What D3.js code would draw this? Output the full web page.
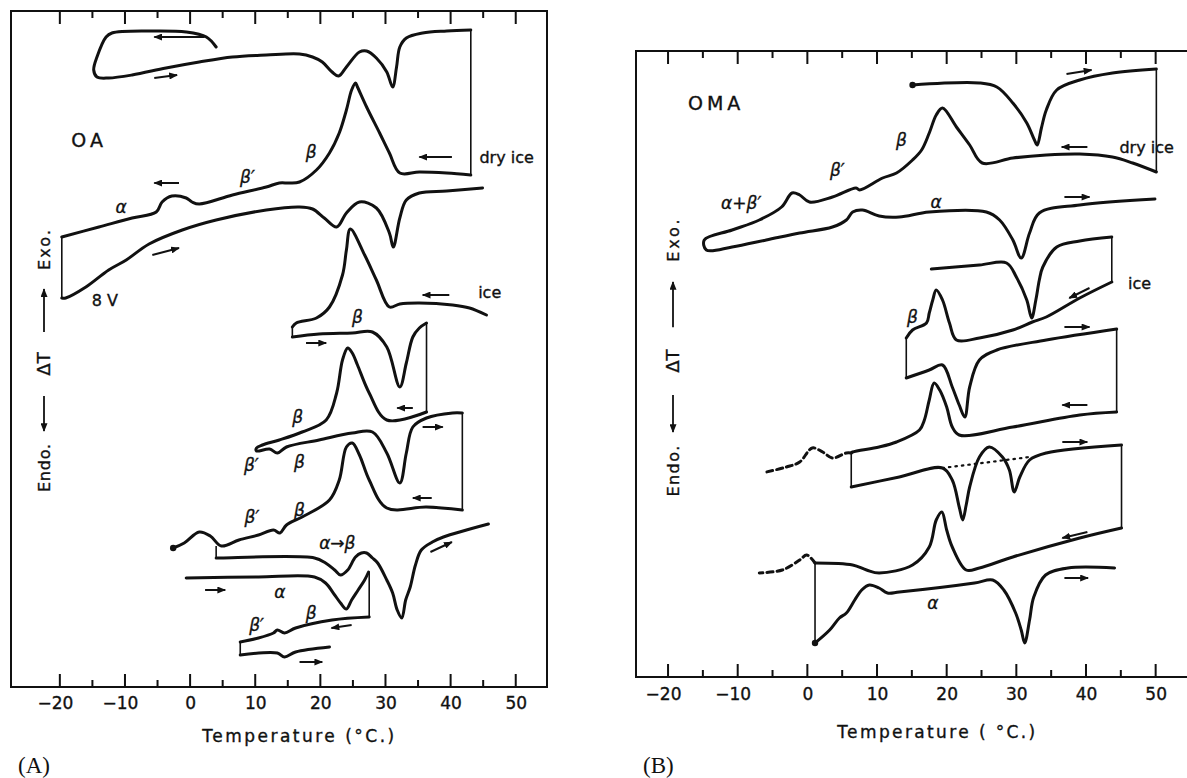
<!DOCTYPE html>
<html>
<head>
<meta charset="utf-8">
<script src="https://cdn.jsdelivr.net/npm/d3@7"></script>
<style>
  body { margin: 0; background: #fff; }
  svg { display: block; }
  .curve { fill: none; stroke: #111; stroke-width: 3; stroke-linejoin: round; stroke-linecap: round; }
  .jump { fill: none; stroke: #111; stroke-width: 1.6; }
  .frame { fill: none; stroke: #111; stroke-width: 2; }
  .lbl { font-family: 'DejaVu Sans', sans-serif; fill: #111; stroke: #111; stroke-width: 0.35; }
</style>
</head>
<body>
<svg id="fig" width="1187" height="778"></svg>
<script>
// ---- axis ticks (deg C) ----
var majorTicks = [-20, -10, 0, 10, 20, 30, 40, 50];
var minorTicks = [-15, -5, 5, 15, 25, 35, 45];

// ---- (A) OA : [temperature degC, deltaT arbitrary units] ----
var oaDryHeat = [[4.0,64.0],[2.5,65.0],[-0.6,65.5],[-6.3,65.6],[-12.0,65.4],[-12.9,65.0],[-14.3,63.0],[-14.8,61.7],[-14.3,61.0],[-12.5,60.9],[-8.9,61.2],[-3.7,61.9],[1.4,62.5],[6.5,63.0],[11.7,63.2],[16.8,63.3],[18.8,63.0],[20.3,62.5],[21.8,61.5],[22.8,61.1],[24.0,62.0],[26.0,63.5],[27.1,63.6],[28.6,62.9],[30.2,61.5],[31.1,60.0],[31.7,62.0],[32.2,64.0],[33.2,64.9],[35.7,65.4],[39.4,65.6],[43.1,65.7]];
var oaDryCool = [[43.1,51.2],[39.4,51.4],[35.2,51.5],[32.2,51.4],[30.6,53.4],[29.1,55.4],[27.1,58.0],[25.7,60.0],[25.4,60.4],[24.8,59.7],[24.0,57.7],[22.9,55.4],[21.4,53.4],[19.4,51.7],[16.8,50.5],[15.2,50.4],[13.7,50.4],[11.7,50.0],[6.5,49.2],[1.4,48.3],[0.3,48.5],[-0.6,48.9],[-2.8,49.1],[-4.3,48.5],[-5.2,47.5],[-8.9,46.9],[-14.0,46.0],[-19.7,45.0]];
var oaDryReheat = [[-19.7,38.9],[-19.1,38.9],[-16.0,40.0],[-12.5,41.7],[-9.8,42.7],[-6.3,44.3],[-1.2,45.7],[4.0,46.7],[11.7,47.7],[16.8,48.0],[18.8,47.8],[20.6,46.9],[22.5,46.0],[24.0,47.4],[26.0,48.5],[28.6,47.9],[30.6,45.4],[31.2,44.0],[32.2,46.9],[33.2,48.7],[35.2,49.4],[39.4,49.6],[44.9,49.9]];
var oaIceCool = [[45.5,37.2],[42.9,37.9],[40.3,38.2],[35.2,38.4],[32.2,38.3],[30.6,38.0],[28.6,40.7],[26.8,43.2],[24.6,45.8],[24.0,43.7],[23.4,41.2],[21.4,38.0],[19.4,36.9],[16.3,36.4],[15.7,36.0]];
var oaIceHeat = [[15.7,35.0],[19.8,35.3],[24.9,35.4],[28.0,35.5],[30.2,34.0],[32.2,30.0],[33.2,32.4],[34.2,35.0],[35.2,35.9],[36.3,36.4]];
var oaIceCool2 = [[36.3,27.5],[30.2,26.7],[27.5,29.4],[25.7,32.2],[24.9,33.4],[24.2,33.9],[23.4,32.7],[22.5,29.4],[20.9,26.7],[17.2,25.5],[13.7,24.7],[11.1,24.2],[10.2,23.9],[10.2,23.6],[12.2,23.8],[13.4,23.4],[14.8,24.0],[19.8,24.7],[24.9,25.4],[28.0,25.5],[30.2,23.4],[32.2,20.4],[33.2,23.4],[34.2,26.0],[36.3,26.9],[40.3,27.4],[41.8,27.4]];
var oaIceCool3 = [[41.8,17.7],[36.3,18.0],[30.2,17.9],[27.5,20.7],[26.0,23.2],[24.9,24.4],[24.0,24.0],[22.9,20.7],[21.4,18.7],[17.2,17.0],[14.8,16.2],[13.8,15.4],[12.8,15.7],[10.5,15.2],[7.5,14.7],[4.8,14.1],[3.1,15.1],[1.4,15.5],[-0.9,14.4],[-2.6,13.9]];
var oaAlphaBetaHeat = [[4.0,12.9],[4.8,12.9],[19.1,12.9],[20.8,12.4],[22.2,11.7],[23.1,11.2],[24.2,11.7],[25.4,13.0],[26.3,13.4],[27.1,13.4],[28.0,12.9],[28.8,12.4],[30.2,10.7],[31.1,9.4],[31.8,7.7],[32.5,6.9],[33.1,8.7],[33.8,10.0],[34.6,12.2],[35.5,13.7],[37.2,14.5],[38.9,15.0],[45.8,16.3]];
var oaAlphaHeat = [[-0.6,10.9],[10.5,11.0],[19.1,11.0],[20.8,10.4],[22.2,9.2],[23.1,8.4],[24.0,7.8],[24.8,8.7],[25.8,9.7],[26.8,10.7],[27.4,11.5]];
var oaBetaCool = [[27.5,7.0],[21.8,6.7],[16.2,5.9],[14.5,5.4],[13.4,5.7],[12.8,5.4],[10.5,4.9],[7.7,4.5]];
var oaBetaHeat = [[7.7,3.2],[13.4,3.4],[14.5,3.0],[16.2,3.5],[21.4,4.0]];
// vertical jumps: [T, from, to]
var oaJumps = [[43.1,65.7,51.2],[-19.7,45.0,38.9],[15.7,36.0,35.0],[36.3,36.4,27.5],[41.8,27.4,17.7],[4.0,14.1,12.9],[27.5,11.5,7.0],[7.7,4.5,3.2]];
var oaDots = [[-2.6,13.9]];
var oaLabels = [["α",-10.6,48.0],["β′",8.8,51.0],["β",18.6,53.5],["β",25.7,37.0],["β",16.5,27.0],["β′",9.4,22.2],["β",16.8,22.5],["β′",9.5,17.0],["β",16.8,17.7],["α→β",22.6,14.4],["α",13.8,9.5],["β′",10.2,6.2],["β",18.6,7.4]];
var oaWords = [["dry ice",48.6,53.0],["ice",46.0,39.5],["8 V",-13.1,38.7]];
// arrows: [T1, v1, T2, v2] head at second point
var oaArrows = [[2.2,65.0,-5.5,65.0],[-5.5,60.9,-2.0,61.2],[-1.7,50.4,-5.5,50.4],[-5.8,43.2,-1.7,43.9],[40.2,53.0,35.2,53.0],[39.8,39.2,35.7,39.2],[17.8,34.4,20.9,34.4],[34.2,27.9,31.8,27.9],[35.7,26.0,38.8,26.0],[37.1,18.9,34.2,18.9],[2.3,9.7,5.4,9.7],[36.9,13.5,40.2,14.5],[24.8,6.2,21.7,5.9],[16.8,2.5,20.3,2.5]];

// ---- (B) OMA ----
var omaDryHeat = [[15.1,59.2],[24.7,59.4],[27.2,59.0],[29.5,57.4],[31.5,55.4],[32.6,53.7],[33.0,53.2],[33.6,54.9],[34.3,56.7],[35.8,58.7],[39.1,59.7],[43.8,60.4],[50.1,60.8]];
var omaDryCool = [[50.1,50.5],[46.7,51.4],[43.8,52.0],[39.1,52.3],[34.3,52.2],[29.5,51.9],[25.1,51.4],[23.3,53.2],[21.4,55.0],[19.4,56.9],[18.5,56.2],[17.5,54.4],[16.4,52.7],[15.1,51.7],[12.8,50.4],[10.8,49.9],[7.5,48.7],[7.0,48.9],[3.6,48.0],[0.3,47.5],[-1.1,48.2],[-2.2,48.4],[-3.7,47.0],[-6.9,45.7],[-10.8,44.7],[-14.8,43.7],[-14.5,42.7],[-10.8,43.0],[-5.9,43.7],[-1.1,44.4],[3.6,45.0],[5.6,45.7],[6.5,46.5],[7.9,46.7],[10.3,46.1],[13.2,46.0],[17.5,46.5],[25.7,46.5],[27.6,45.7],[29.5,43.7],[30.7,41.9],[31.9,44.4],[33.3,46.4],[39.1,47.2],[49.9,47.8]];
var omaIceHeat = [[17.8,40.8],[24.7,41.2],[28.6,41.4],[30.0,40.0],[31.5,37.7],[32.2,35.9],[32.8,37.7],[33.3,39.7],[33.8,41.0],[35.8,43.0],[39.1,43.6],[43.7,44.0]];
var omaIceCool = [[43.7,39.5],[39.1,37.9],[34.3,36.0],[32.3,35.5],[29.5,34.7],[24.7,33.9],[21.4,33.7],[20.4,35.4],[19.4,37.7],[18.5,38.7],[18.0,37.7],[17.5,36.4],[17.1,35.4],[15.1,34.7],[14.2,33.9]];
var omaIceHeat2 = [[14.2,29.9],[17.5,30.7],[19.4,31.2],[20.8,29.0],[21.8,27.2],[22.6,26.0],[23.3,29.0],[24.7,31.7],[27.2,32.7],[34.3,33.7],[44.4,34.8]];
var omaIceCool2 = [[44.4,26.5],[39.1,26.2],[29.5,25.0],[21.8,24.2],[20.8,25.0],[20.0,27.0],[19.0,28.7],[18.2,29.4],[17.5,27.7],[16.8,25.7],[16.1,24.7],[12.8,23.5],[10.3,23.0],[6.5,22.5],[6.3,22.4]];
var omaIceTail = [[6.3,22.4],[5.6,22.4],[3.6,21.9],[2.2,22.5],[0.7,22.9],[-1.1,21.5],[-3.0,21.0],[-5.9,20.5]];
var omaStepHeat = [[6.3,19.0],[13.2,20.0],[19.4,20.9],[20.8,19.7],[21.8,17.0],[22.3,15.7],[22.8,17.2],[23.3,19.0],[24.7,22.0],[26.1,23.0],[28.0,22.0],[29.0,20.7],[29.7,18.5],[30.5,20.0],[31.9,21.7],[34.3,22.4],[45.1,23.2]];
var omaDotted = [[19.4,20.9],[31.9,22.0]];
var omaStepCool = [[45.1,14.9],[39.1,13.9],[29.5,12.0],[24.7,10.9],[22.8,10.7],[20.8,13.0],[20.0,14.7],[19.3,16.5],[18.5,15.7],[17.5,13.0],[15.1,11.2],[10.3,10.4],[8.5,10.7],[6.5,11.2],[1.1,11.4]];
var omaStepTail = [[1.1,11.4],[-0.1,12.2],[-1.1,11.7],[-3.6,10.7],[-6.9,10.4]];
var omaAlphaHeat = [[1.1,3.4],[3.2,4.7],[4.6,5.9],[5.6,6.4],[6.8,7.7],[7.8,8.7],[8.9,9.2],[10.3,8.9],[11.5,8.4],[13.2,8.5],[24.0,9.4],[26.6,9.7],[28.2,8.7],[29.9,6.4],[30.7,4.7],[31.2,3.4],[31.9,5.7],[32.5,8.0],[34.2,10.2],[37.4,10.9],[44.1,10.9]];
var omaJumps = [[50.1,60.8,50.5],[43.7,44.0,39.5],[14.2,33.9,29.9],[44.4,34.8,26.5],[6.3,22.4,19.0],[45.1,23.2,14.9],[1.1,11.4,3.4]];
var omaDots = [[15.1,59.2],[1.1,3.4]];
var omaLabels = [["α+β′",-9.5,47.4],["β′",4.3,50.7],["β",13.5,53.7],["α",18.5,47.5],["β",15.1,36.0],["α",18.0,7.4]];
var omaWords = [["dry ice",48.7,53.0],["ice",47.7,39.4]];
var omaArrows = [[37.2,60.3,40.8,60.7],[40.2,53.0,36.5,53.0],[36.9,48.0,40.5,48.0],[40.5,38.9,37.6,37.9],[36.9,35.0,40.5,35.0],[40.2,27.2,36.6,27.2],[36.6,23.5,40.2,23.5],[40.2,14.5,36.6,13.9],[36.9,9.9,40.3,9.9]];

var svg = d3.select("#fig");
svg.append("defs").append("marker")
    .attr("id", "head").attr("viewBox", "0 0 10 8")
    .attr("refX", 9).attr("refY", 4)
    .attr("markerWidth", 9).attr("markerHeight", 7)
    .attr("markerUnits", "userSpaceOnUse").attr("orient", "auto")
  .append("path").attr("d", "M0,0 L10,4 L0,8 Z").attr("fill", "#111");

function drawPanel(p) {
    var x = p.x, y = p.y;
    var g = svg.append("g");
    var x0 = x.range()[0], x1 = x.range()[1];
    var yb = y.range()[0], yt = y.range()[1];

    // frame
    if (p.closed) {
        g.append("rect").attr("class", "frame")
            .attr("x", x0).attr("y", yt).attr("width", x1 - x0).attr("height", yb - yt);
    } else {
        g.append("path").attr("class", "frame")
            .attr("d", "M" + x1 + "," + yt + "H" + x0 + "V" + yb + "H" + x1);
    }

    // tick marks on top and bottom, pointing inward
    var marks = majorTicks.map(function(t) { return [t, 13]; })
        .concat(minorTicks.map(function(t) { return [t, 7]; }));
    var tickPath = "";
    marks.forEach(function(m) {
        var px = x(m[0]);
        tickPath += "M" + px + "," + yb + "V" + (yb - m[1]);
        tickPath += "M" + px + "," + yt + "V" + (yt + m[1]);
    });
    g.append("path").attr("d", tickPath)
        .attr("fill", "none").attr("stroke", "#111").attr("stroke-width", 2);

    // tick labels
    g.append("g").attr("transform", "translate(0," + yb + ")")
        .call(d3.axisBottom(x).tickValues(majorTicks).tickSize(0).tickPadding(9)
            .tickFormat(function(d) { return d < 0 ? "\u2212" + (-d) : d; }))
        .call(function(s) { s.select(".domain").remove(); })
        .selectAll(".tick text")
        .attr("class", "lbl").attr("font-size", 17).attr("font-family", "'DejaVu Sans', sans-serif")
        .attr("dx", function(d) { return d < 0 ? -5 : 0; })
        .attr("y", p.tickLabelY).attr("dy", 0);

    // x title
    g.append("text").attr("class", "lbl")
        .attr("x", x(p.titleT)).attr("y", yb + p.titleDy)
        .attr("text-anchor", "middle").attr("font-size", 17)
        .attr("textLength", p.titleLen).attr("lengthAdjust", "spacing")
        .text(p.title);

    // panel letter
    g.append("text")
        .attr("x", x0 - p.letterDx).attr("y", 773)
        .attr("font-family", "'Liberation Serif', 'Times New Roman', serif")
        .attr("font-size", 23).attr("fill", "#111")
        .text(p.letter);

    // y title, rotated
    var s = p.yLen / 262;
    var yl = g.append("g").attr("transform", "translate(" + p.yLabelX + "," + p.yLabelY + ") rotate(-90)");
    yl.append("text").attr("class", "lbl").attr("x", -131 * s).attr("y", 7).attr("font-size", 16)
        .attr("textLength", 48 * s).attr("lengthAdjust", "spacing").text("Endo.");
    yl.append("line").attr("x1", -35 * s).attr("x2", -70 * s).attr("y1", 1).attr("y2", 1)
        .attr("stroke", "#111").attr("stroke-width", 1.8).attr("marker-end", "url(#head)");
    yl.append("text").attr("class", "lbl").attr("x", -3 * s).attr("y", 7).attr("font-size", 18)
        .attr("text-anchor", "middle").text("ΔT");
    yl.append("line").attr("x1", 29 * s).attr("x2", 72 * s).attr("y1", 1).attr("y2", 1)
        .attr("stroke", "#111").attr("stroke-width", 1.8).attr("marker-end", "url(#head)");
    yl.append("text").attr("class", "lbl").attr("x", 91 * s).attr("y", 7).attr("font-size", 16)
        .attr("textLength", 40 * s).attr("lengthAdjust", "spacing").text("Exo.");

    // sample name
    g.append("text").attr("class", "lbl")
        .attr("x", x(p.name[1])).attr("y", y(p.name[2])).attr("dy", "0.35em")
        .attr("text-anchor", "middle").attr("font-size", 19).attr("letter-spacing", 4)
        .text(p.name[0]);

    var line = d3.line()
        .x(function(d) { return x(d[0]); })
        .y(function(d) { return y(d[1]); })
        .curve(d3.curveCatmullRom.alpha(0.5));

    g.selectAll(".curve.solid").data(p.curves).enter().append("path")
        .attr("class", "curve solid").attr("d", line);
    g.selectAll(".curve.dash").data(p.dashed).enter().append("path")
        .attr("class", "curve dash").attr("stroke-dasharray", "6,4").attr("d", line);
    g.selectAll(".dotted").data(p.dotted).enter().append("path")
        .attr("class", "dotted").attr("fill", "none").attr("stroke", "#111")
        .attr("stroke-width", 2.2).attr("stroke-dasharray", "1.5,5").attr("stroke-linecap", "round")
        .attr("d", d3.line().x(function(d) { return x(d[0]); }).y(function(d) { return y(d[1]); }));

    g.selectAll(".jump").data(p.jumps).enter().append("line")
        .attr("class", "jump")
        .attr("x1", function(d) { return x(d[0]); }).attr("x2", function(d) { return x(d[0]); })
        .attr("y1", function(d) { return y(d[1]); }).attr("y2", function(d) { return y(d[2]); });

    g.selectAll(".dot").data(p.dots).enter().append("circle")
        .attr("class", "dot").attr("r", 3.2).attr("fill", "#111")
        .attr("cx", function(d) { return x(d[0]); }).attr("cy", function(d) { return y(d[1]); });

    g.selectAll(".arr").data(p.arrows).enter().append("line")
        .attr("class", "arr").attr("stroke", "#111").attr("stroke-width", 2)
        .attr("x1", function(d) { return x(d[0]); }).attr("y1", function(d) { return y(d[1]); })
        .attr("x2", function(d) { return x(d[2]); }).attr("y2", function(d) { return y(d[3]); })
        .attr("marker-end", "url(#head)");

    g.selectAll(".greek").data(p.labels).enter().append("text")
        .attr("class", "lbl greek").attr("font-size", 17).attr("font-style", "italic")
        .attr("text-anchor", "middle").attr("dy", "0.35em")
        .attr("x", function(d) { return x(d[1]); }).attr("y", function(d) { return y(d[2]); })
        .text(function(d) { return d[0]; });

    g.selectAll(".word").data(p.words).enter().append("text")
        .attr("class", "lbl word").attr("font-size", 16)
        .attr("text-anchor", "middle").attr("dy", "0.35em")
        .attr("x", function(d) { return x(d[1]); }).attr("y", function(d) { return y(d[2]); })
        .text(function(d) { return d[0]; });
}

drawPanel({
    x: d3.scaleLinear().domain([-27.5, 54.8]).range([11, 547]),
    y: d3.scaleLinear().domain([0, 67.6]).range([687, 11]),
    closed: true,
    tickLabelY: 22,
    title: "Temperature (°C.)", titleT: 16.6, titleDy: 55, titleLen: 192,
    letter: "(A)", letterDx: -7,
    yLabelX: 43, yLabelY: 361, yLen: 262,
    name: ["OA", -15.5, 54.7],
    curves: [oaDryHeat, oaDryCool, oaDryReheat, oaIceCool, oaIceHeat, oaIceCool2, oaIceCool3, oaAlphaBetaHeat, oaAlphaHeat, oaBetaCool, oaBetaHeat],
    dashed: [], dotted: [],
    jumps: oaJumps, dots: oaDots, arrows: oaArrows, labels: oaLabels, words: oaWords
});

drawPanel({
    x: d3.scaleLinear().domain([-24.6, 54.5]).range([636, 1187]),
    y: d3.scaleLinear().domain([0, 62.6]).range([677, 51]),
    closed: false,
    tickLabelY: 23,
    title: "Temperature ( °C.)", titleT: 18.5, titleDy: 61, titleLen: 198,
    letter: "(B)", letterDx: -7,
    yLabelX: 672, yLabelY: 358, yLen: 277,
    name: ["OMA", -13.1, 57.4],
    curves: [omaDryHeat, omaDryCool, omaIceHeat, omaIceCool, omaIceHeat2, omaIceCool2, omaStepHeat, omaStepCool, omaAlphaHeat],
    dashed: [omaIceTail, omaStepTail], dotted: [omaDotted],
    jumps: omaJumps, dots: omaDots, arrows: omaArrows, labels: omaLabels, words: omaWords
});
</script>
</body>
</html>
